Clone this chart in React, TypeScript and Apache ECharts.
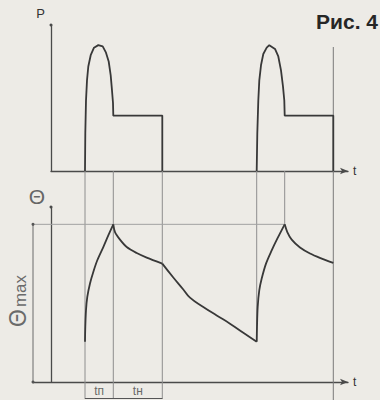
import React, { useEffect, useRef } from "react";
import * as echarts from "echarts";

// Layout of the two stacked panels (pixels); one t-unit per pixel in both
const TOP_PANEL = { left: 51, width: 297, top: 25, height: 146 };
const BOT_PANEL = { left: 33, width: 315, top: 207, height: 175 };

// Axis extents (t shared by both panels, P on top, Θ below; Θmax = 100)
const T_END = 297;
const T_DIM = -18; // column of the Θmax dimension line, left of the Θ axis
const P_TOP = 116;
const THETA_TOP = 111;
const THETA_MAX = 100;

// Switching instants of the two load cycles
const tStart = [34, 205.7]; // start of the starting pulse
const tPeak = [62.3, 233.7]; // end of starting pulse / start of nominal load
const tOff = [111.3, 282.3]; // load removed

// Power P(t), first cycle: starting pulse then nominal load
const power1: number[][] = [
  [34, 0], [34.3, 30], [35, 56], [36, 72], [37.3, 83], [39.7, 92], [43, 98],
  [47.3, 100], [51.7, 99], [55, 94], [57.7, 87], [59.7, 76], [61, 64],
  [62, 54], [62.3, 44], [111.3, 44], [111.3, 0],
];
// Power P(t), second cycle
const power2: number[][] = [
  [205.7, 0], [206.3, 30], [207.3, 56], [208.3, 72], [210, 84], [212.3, 93],
  [215.7, 98], [218.3, 100], [224, 97], [227.3, 91], [230, 80], [232, 67],
  [233.3, 56], [233.7, 44], [282.3, 44], [282.3, 0],
];

// Temperature Θ(t), piece by piece
const thetaRise1: number[][] = [
  [34, 25.5], [34.3, 35], [35, 45.6], [36.3, 54], [39, 62.5], [42.3, 69.8],
  [46.3, 77.2], [52.3, 85.6], [57.3, 93], [62.3, 100],
];
const thetaHold1: number[][] = [
  [62.3, 100], [64, 95.1], [69, 90.3], [75.7, 85.6], [85.7, 81.8],
  [95.7, 78.9], [111.3, 75.1],
];
const thetaCool: number[][] = [
  [111.3, 75.1], [122.3, 66.3], [132.3, 58.7], [139, 53.5], [152.3, 47.6],
  [165.7, 42.2], [179, 37], [192.3, 31.2], [205.7, 25.5],
];
const thetaRise2: number[][] = [
  [205.7, 25.5], [206, 35], [206.7, 47.7], [208.3, 58.2], [210.7, 65.6],
  [215, 75.1], [220.7, 83.5], [226.3, 90.9], [233.7, 100],
];
const thetaHold2: number[][] = [
  [233.7, 100], [236.3, 95.1], [240.7, 90.3], [249, 85.3], [259, 81.5],
  [270.7, 78.3], [282.3, 75.5],
];

// Interval names under the time axis
const intervalLabels = ["tп", "tн"];

// Θ value at a given page row (for lines that leave the lower panel)
const thetaAt = (y: number) =>
  ((BOT_PANEL.top + BOT_PANEL.height - y) / BOT_PANEL.height) * THETA_TOP;

const INK = "#383838";
const AXIS = "#4a4a4a";
const GUIDE = "#8e8e8e";
const FONT = "Liberation Sans, Arial, sans-serif";
const NARROW = "Liberation Sans Narrow, Liberation Sans, Arial, sans-serif";

export default function App() {
  const ref = useRef<HTMLDivElement>(null);

  useEffect(() => {
    if (!ref.current) return;
    const chart = echarts.init(ref.current, null, { renderer: "svg" });

    const trace = (data: number[][], grid: number, extra: any = {}) => ({
      type: "line",
      xAxisIndex: grid,
      yAxisIndex: grid,
      data,
      symbol: "none",
      silent: true,
      clip: false,
      lineStyle: { color: INK, width: 1.8 },
      ...extra,
    });
    const guide = (data: number[][], extra: any = {}) =>
      trace(data, 1, { lineStyle: { color: GUIDE, width: 1 }, z: 1, ...extra });

    const gapTop = thetaAt(TOP_PANEL.top + TOP_PANEL.height);
    const below = thetaAt(399);

    const series: any[] = [
      trace(power1, 0),
      trace(power2, 0),
      trace(thetaRise1, 1, { smooth: 0.3 }),
      trace(thetaHold1, 1, { smooth: 0.3 }),
      trace(thetaCool, 1, { smooth: 0.5 }),
      trace(thetaRise2, 1, { smooth: 0.3 }),
      trace(thetaHold2, 1, { smooth: 0.3 }),
      // first cycle switching instants carried down below the time axis
      guide([[tStart[0], gapTop], [tStart[0], below]]),
      guide([[tPeak[0], gapTop], [tPeak[0], below]]),
      guide([[tOff[0], gapTop], [tOff[0], below]]),
      // second cycle instants down to the temperature curve
      guide([[tStart[1], gapTop], [tStart[1], thetaRise2[0][1]]]),
      guide([[tPeak[1], gapTop], [tPeak[1], THETA_MAX]]),
      // right boundary of the period
      guide([[tOff[1], thetaAt(47)], [tOff[1], thetaAt(400)]], {
        lineStyle: { color: "#7a7a7a", width: 1 },
      }),
      // Θmax level and its dimension line
      guide([[T_DIM, THETA_MAX], [tPeak[1], THETA_MAX]], {
        lineStyle: { color: "#a2a2a2", width: 1 },
      }),
      guide([[T_DIM, 0], [T_DIM, THETA_MAX]], {
        lineStyle: { color: "#6a6a6a", width: 1 },
        symbol: "circle",
        symbolSize: 3,
        itemStyle: { color: "#555" },
      }),
      // tп / tн dimension line
      trace([[tStart[0], thetaAt(398.5)], [tOff[0], thetaAt(398.5)]], 1, {
        lineStyle: { color: "#555", width: 1.2 },
      }),
      {
        type: "scatter",
        xAxisIndex: 1,
        yAxisIndex: 1,
        clip: false,
        silent: true,
        symbolSize: 0,
        data: [
          { value: [(tStart[0] + tPeak[0]) / 2, thetaAt(391)], name: intervalLabels[0] },
          { value: [(tPeak[0] + tOff[0]) / 2, thetaAt(391)], name: intervalLabels[1] },
        ],
        label: {
          show: true,
          position: "inside",
          formatter: (p: any) => p.name,
          fontFamily: FONT,
          fontSize: 12,
          color: "#444",
        },
      },
    ];

    const xAxisBase = {
      type: "value",
      max: T_END,
      name: "t",
      nameLocation: "end",
      nameGap: 5,
      nameTextStyle: { fontFamily: FONT, fontSize: 12, color: "#333" },
      axisLine: {
        show: true,
        onZero: false,
        symbol: ["none", "arrow"],
        symbolSize: [5, 8],
        lineStyle: { color: AXIS, width: 1.3 },
      },
      axisTick: { show: false },
      axisLabel: { show: false },
      splitLine: { show: false },
    };
    const yAxisBase = {
      type: "value",
      min: 0,
      nameLocation: "end",
      axisLine: {
        show: true,
        onZero: true,
        symbol: ["none", "circle"],
        symbolSize: [3, 3],
        lineStyle: { color: AXIS, width: 1.3 },
      },
      axisTick: { show: false },
      axisLabel: { show: false },
      splitLine: { show: false },
    };

    chart.setOption({
      animation: false,
      backgroundColor: "#edebe6",
      title: {
        text: "Рис. 4",
        right: -3,
        top: 6,
        textStyle: { fontFamily: FONT, fontSize: 21, fontWeight: "bold", color: "#262626" },
      },
      grid: [
        { ...TOP_PANEL },
        { ...BOT_PANEL },
      ],
      xAxis: [
        { ...xAxisBase, gridIndex: 0, min: 0 },
        { ...xAxisBase, gridIndex: 1, min: T_DIM },
      ],
      yAxis: [
        {
          ...yAxisBase,
          gridIndex: 0,
          max: P_TOP,
          name: "P",
          nameGap: 5,
          nameTextStyle: {
            align: "right",
            padding: [0, 6, 0, 0],
            fontFamily: FONT,
            fontSize: 13,
            color: "#333",
          },
        },
        {
          ...yAxisBase,
          gridIndex: 1,
          max: THETA_TOP,
          name: "Θ",
          nameGap: 0,
          nameTextStyle: {
            align: "right",
            padding: [0, 6, 0, 0],
            fontFamily: NARROW,
            fontSize: 21,
            color: "#666",
          },
        },
      ],
      graphic: [
        {
          type: "text",
          x: 17.5,
          y: 318,
          rotation: Math.PI / 2,
          style: {
            text: "Θ",
            align: "center",
            verticalAlign: "middle",
            fontFamily: FONT,
            fontSize: 23,
            fill: "#6a6a6a",
          },
        },
        {
          type: "text",
          x: 20,
          y: 291,
          rotation: Math.PI / 2,
          style: {
            text: "max",
            align: "center",
            verticalAlign: "middle",
            fontFamily: NARROW,
            fontSize: 17,
            fill: "#6a6a6a",
          },
        },
      ],
      series,
    });

    return () => chart.dispose();
  }, []);

  return (
    <div
      ref={ref}
      style={{ position: "fixed", left: 0, top: 0, width: 380, height: 400 }}
    />
  );
}
